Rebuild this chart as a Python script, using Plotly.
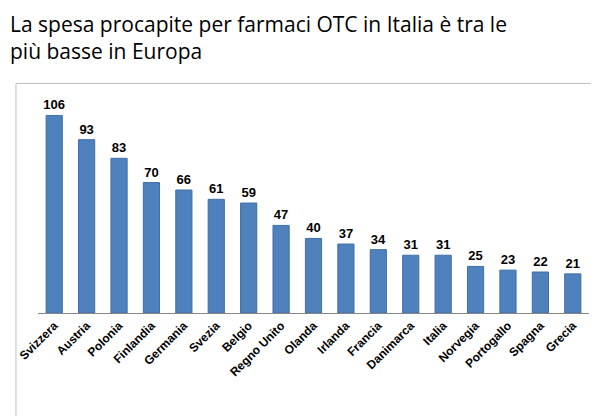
import plotly.graph_objects as go

countries = ["Svizzera", "Austria", "Polonia", "Finlandia", "Germania", "Svezia", "Belgio",
             "Regno Unito", "Olanda", "Irlanda", "Francia", "Danimarca", "Italia",
             "Norvegia", "Portogallo", "Spagna", "Grecia"]
spesa = [106, 93, 83, 70, 66, 61, 59, 47, 40, 37, 34, 31, 31, 25, 23, 22, 21]

fig = go.Figure(go.Bar(
    x=countries, y=spesa,
    text=spesa, textposition="outside", constraintext="none",
    texttemplate="<b>%{text}</b>",
    textfont=dict(family="Liberation Sans", size=13, color="black"),
    marker=dict(color="#4F81BD", line=dict(color="#3F6FA8", width=1)),
    cliponaxis=False,
))

fig.update_layout(
    width=599, height=416,
    margin=dict(l=30, r=18, t=100, b=111, autoexpand=False),
    paper_bgcolor="white", plot_bgcolor="white",
    bargap=0.5,
    showlegend=False,
    xaxis=dict(tickangle=-45, showline=True, linecolor="#868686", linewidth=1,
               tickfont=dict(family="Liberation Sans", size=12, color="black"),
               tickprefix="<b>", ticksuffix="</b>", ticks=""),
    yaxis=dict(range=[0, 110], visible=False),
    font=dict(family="Liberation Sans", color="black"),
)

fig.add_annotation(text="La spesa procapite per farmaci OTC in Italia è tra le<br>più basse in Europa",
                   xref="paper", yref="paper", x=-30/551, y=1 + 100/205,
                   xanchor="left", yanchor="top", align="left", showarrow=False,
                   font=dict(family="Open Sans", size=21, color="black"))

fig.add_shape(type="rect", xref="paper", yref="paper",
              x0=-0.04, x1=1.02, y0=-0.52, y1=1.12,
              line=dict(color="#BFBFBF", width=1))

fig.write_html("out.html")
